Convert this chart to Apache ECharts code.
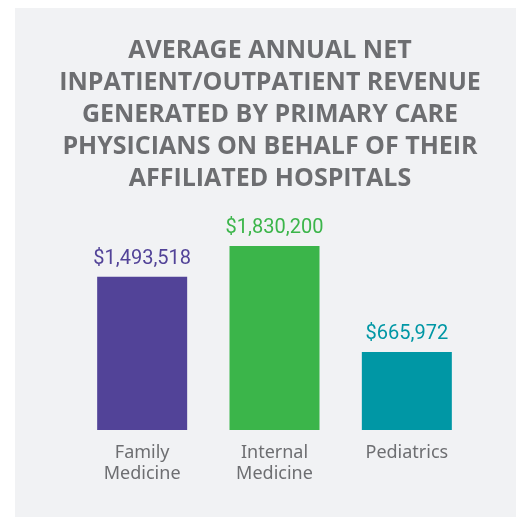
<!DOCTYPE html>
<html>
<head>
<meta charset="utf-8">
<script src="https://cdn.jsdelivr.net/npm/echarts@6/dist/echarts.min.js"></script>
<style>
  html, body { margin: 0; padding: 0; background: #fff; }
  #main { width: 516px; height: 517px; }
</style>
</head>
<body>
<div id="main"></div>
<script>
// chart data
var categories = ['Family\nMedicine', 'Internal\nMedicine', 'Pediatrics']
var revenue = [1493518, 1830200, 665972]
var barColors = ['#524398', '#3bb54a', '#0097a5']

var titleText = 'AVERAGE ANNUAL NET\nINPATIENT/OUTPATIENT REVENUE\nGENERATED BY PRIMARY CARE\nPHYSICIANS ON BEHALF OF THEIR\nAFFILIATED HOSPITALS'

function money (v) {
  return '$' + v.toString().replace(/\B(?=(\d{3})+(?!\d))/g, ',')
}

var myChart = echarts.init(document.getElementById('main'))

var option = {
  backgroundColor: '#ffffff',
  animation: false,
  graphic: [{
    type: 'rect',
    left: 15,
    top: 8,
    z: -10,
    shape: { width: 501, height: 509 },
    style: { fill: '#f1f2f4' }
  }],
  title: {
    text: titleText,
    left: 265,
    top: 30,
    textAlign: 'center',
    textStyle: {
      fontFamily: 'Open Sans',
      fontWeight: 'bold',
      fontSize: 25,
      lineHeight: 32,
      color: '#6d6e71'
    }
  },
  grid: {
    left: 76,
    right: 43,
    top: 246,
    bottom: 87,
    outerBoundsMode: 'none'
  },
  xAxis: {
    type: 'category',
    data: categories,
    axisLine: { show: false },
    axisTick: { show: false },
    axisLabel: {
      margin: 12,
      fontFamily: 'Noto Sans',
      fontSize: 18,
      lineHeight: 21,
      color: '#6d6e71'
    }
  },
  yAxis: {
    type: 'value',
    min: -190700,
    max: 1830200,
    startValue: -190700,
    show: false,
    splitLine: { show: false }
  },
  series: [{
    type: 'bar',
    barWidth: 90,
    data: revenue.map(function (v, i) {
      return {
        value: v,
        itemStyle: { color: barColors[i] },
        label: { color: barColors[i] }
      }
    }),
    label: {
      show: true,
      position: 'top',
      distance: 8,
      fontFamily: 'Roboto',
      fontSize: 20,
      formatter: function (p) { return money(p.value) }
    }
  }]
}

myChart.setOption(option)
</script>
</body>
</html>
